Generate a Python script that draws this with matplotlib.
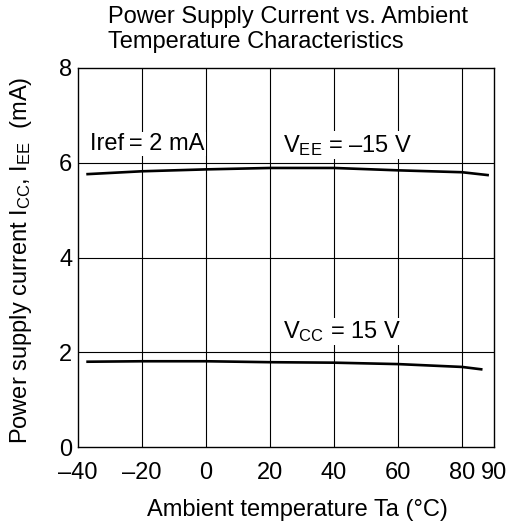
import matplotlib
matplotlib.use("Agg")
import matplotlib.pyplot as plt
import numpy as np

plt.rcParams['font.family'] = ['Liberation Sans', 'DejaVu Sans']
plt.rcParams['mathtext.fontset'] = 'custom'
plt.rcParams['mathtext.rm'] = 'Liberation Sans'
plt.rcParams['mathtext.it'] = 'Liberation Sans'

# Data
temp_vee = [-37, -20, 0, 20, 40, 60, 80, 88]
icc_vee = [5.76, 5.82, 5.86, 5.89, 5.89, 5.84, 5.80, 5.74]
temp_vcc = [-37, -20, 0, 20, 40, 60, 80, 86]
icc_vcc = [1.80, 1.81, 1.81, 1.79, 1.78, 1.75, 1.69, 1.64]
xticks = [-40, -20, 0, 20, 40, 60, 80, 90]
xticklabels = ['\u201340', '\u201320', '0', '20', '40', '60', '80', '90']
yticks = [0, 2, 4, 6, 8]

W, H = 513, 527
fig = plt.figure(figsize=(W / 100, H / 100), dpi=100)
ax = fig.add_axes([78 / W, 1 - 447 / H, (494 - 78) / W, (447 - 68) / H])

fs = 17
ax.set_xlim(-40, 90)
ax.set_ylim(0, 8)
ax.set_xticks(xticks)
ax.set_xticklabels(xticklabels)
ax.set_yticks(yticks)
ax.tick_params(length=0, labelsize=fs)
ax.tick_params(axis='y', pad=4)
ax.tick_params(axis='x', pad=11)

for x in [-20, 0, 20, 40, 60, 80]:
    ax.axvline(x, color='black', lw=0.8, zorder=1)
for y in [2, 4, 6]:
    ax.axhline(y, color='black', lw=0.8, zorder=1)
for s in ax.spines.values():
    s.set_linewidth(1.0)
    s.set_color('black')

ax.plot(temp_vee, icc_vee, color='black', lw=1.9, zorder=3)
ax.plot(temp_vcc, icc_vcc, color='black', lw=1.9, zorder=3)

bb = dict(facecolor='white', edgecolor='none', pad=1)
ax.text(-36.3, 6.27, 'Iref\u2009= 2 mA', fontsize=fs, ha='left', va='baseline', bbox=bb, zorder=2)
ax.text(24, 6.23, 'V$_{\\mathrm{EE}}$ = \u201315 V', fontsize=fs,
        ha='left', va='baseline', bbox=bb, zorder=2)
ax.text(24, 2.30, 'V$_{\\mathrm{CC}}$ = 15 V', fontsize=fs, ha='left', va='baseline', bbox=bb, zorder=2)

fig.text(108 / W, 1 - 23 / H, 'Power Supply Current vs. Ambient',
         fontsize=fs, ha='left', va='baseline')
fig.text(108 / W, 1 - 48 / H, 'Temperature Characteristics',
         fontsize=fs, ha='left', va='baseline')
fig.text(147 / W, 1 - 516 / H, 'Ambient temperature Ta (\u00b0C)', fontsize=fs, ha='left', va='baseline')
fig.text(21 / W, 1 - 260 / H, 'Power supply current I$_{\\mathrm{CC}}$, I$_{\\mathrm{EE}}$  (mA)',
         fontsize=fs, rotation=90, ha='center', va='center')

fig.savefig('out.png', dpi=100)
